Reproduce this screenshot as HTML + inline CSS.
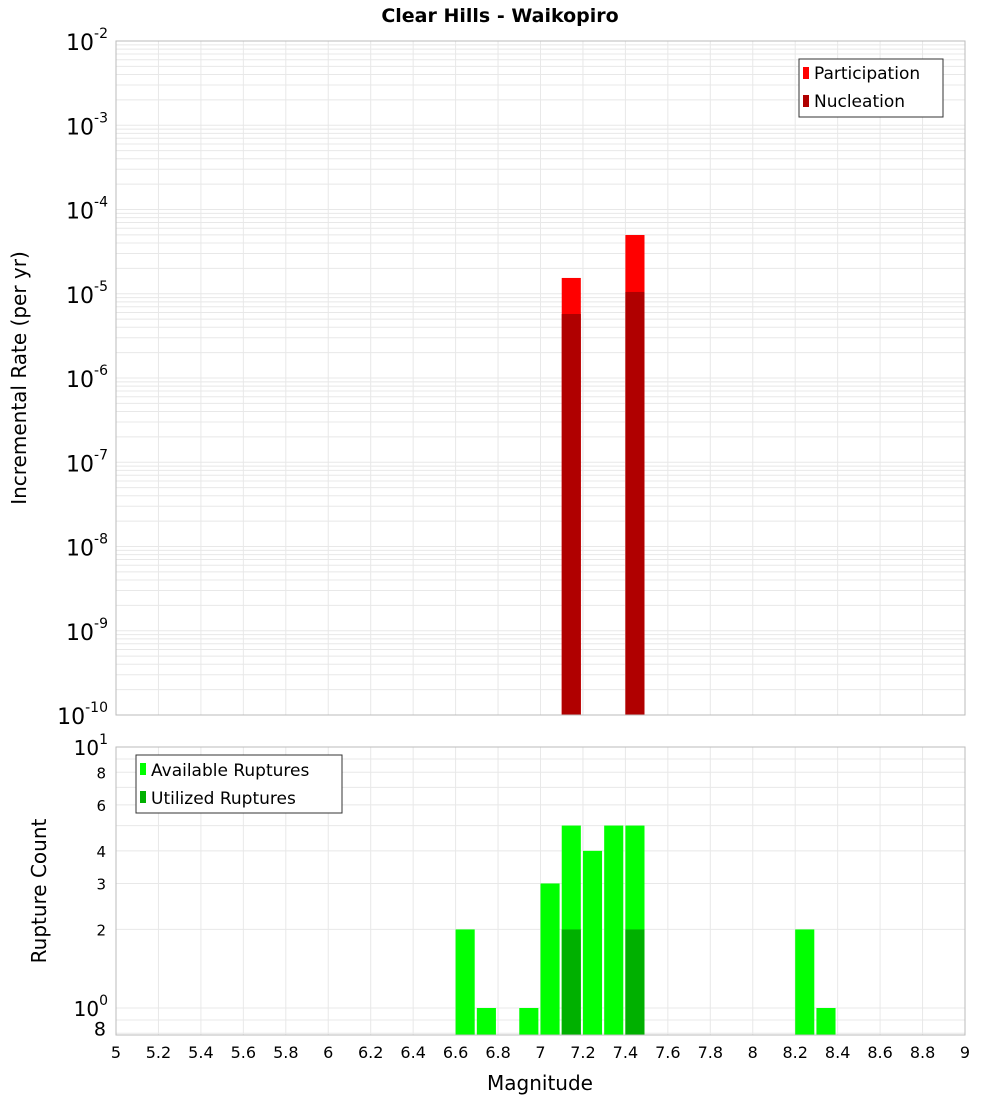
<!DOCTYPE html>
<html><head><meta charset="utf-8"><style>
body{margin:0;background:#fff;}
svg{display:block;font-family:"DejaVu Sans","Liberation Sans",sans-serif;}
</style></head><body>
<svg id="chart" width="1000" height="1100" viewBox="0 0 1000 1100">
<rect width="1000" height="1100" fill="#fff"/>
<text x="500" y="22" text-anchor="middle" font-weight="bold" font-size="19">Clear Hills - Waikopiro</text>
<g id="topg"></g>
<g id="botg"></g>
<text transform="translate(26,378) rotate(-90)" text-anchor="middle" font-size="20">Incremental Rate (per yr)</text>
<text transform="translate(46,891) rotate(-90)" text-anchor="middle" font-size="20">Rupture Count</text>
<text x="540" y="1090" text-anchor="middle" font-size="20">Magnitude</text>
<g>
<rect x="799" y="59" width="144" height="58" fill="#fff" stroke="#333"/>
<rect x="803" y="67" width="6" height="12" fill="#ff0000"/>
<text x="814" y="79" font-size="17">Participation</text>
<rect x="803" y="95" width="6" height="12" fill="#b00000"/>
<text x="814" y="107" font-size="17">Nucleation</text>
</g>
<g>
<rect x="136" y="755" width="206" height="58" fill="#fff" stroke="#333"/>
<rect x="140" y="763" width="6" height="12" fill="#00ff00"/>
<text x="151" y="776" font-size="17">Available Ruptures</text>
<rect x="140" y="791" width="6" height="12" fill="#00b000"/>
<text x="151" y="804" font-size="17">Utilized Ruptures</text>
</g>
</svg>
<script>
const mags = [7.15, 7.45];
const participation = [1.54e-5, 4.98e-5];
const nucleation = [5.75e-6, 1.05e-5];
const countMags = [6.65, 6.75, 6.95, 7.05, 7.15, 7.25, 7.35, 7.45, 8.25, 8.35];
const available = [2, 1, 1, 3, 5, 4, 5, 5, 2, 1];
const utilMags = [7.15, 7.45];
const utilized = [2, 2];
const xTicks = [5,5.2,5.4,5.6,5.8,6,6.2,6.4,6.6,6.8,7,7.2,7.4,7.6,7.8,8,8.2,8.4,8.6,8.8,9];
const topExps = [-2,-3,-4,-5,-6,-7,-8,-9,-10];

const NS="http://www.w3.org/2000/svg";
const L=116,R=965,T1=41,B1=715,T2=747,B2=1035;
const xs=m=>L+(m-5)/4*(R-L);
const y1=v=>T1+(-2-Math.log10(v))/8*(B1-T1);
const perDec2=261;
const y2=v=>T2+(1-Math.log10(v))*perDec2;
function mk(p,tag,a){const e=document.createElementNS(NS,tag);for(const k in a)e.setAttribute(k,a[k]);p.appendChild(e);return e;}
const topG=document.getElementById('topg'),botG=document.getElementById('botg');

for(let d=-10;d<-2;d++)for(let k=1;k<10;k++){const yy=y1(k*Math.pow(10,d));
 const g=mk(topG,'line',{x1:L,x2:R,y1:yy,y2:yy,stroke:'#e8e8e8','stroke-width':1});
 
 }
xTicks.forEach(t=>{for(const [p,a,b] of [[topG,T1,B1],[botG,T2,B2]]){const g=mk(p,'line',{x1:xs(t),x2:xs(t),y1:a,y2:b,stroke:'#e8e8e8'});
 
 }});
[0.8,0.9,1,2,3,4,5,6,7,8,9,10].forEach(v=>{const g=mk(botG,'line',{x1:L,x2:R,y1:y2(v),y2:y2(v),stroke:'#e8e8e8'});
 
 });

const bw=(R-L)/40*0.9;
mags.forEach((m,i)=>{
 const a=mk(topG,'rect',{x:xs(m-0.05),y:y1(participation[i]),width:bw,height:B1-y1(participation[i]),fill:'#ff0000'});
 
 
 const b=mk(topG,'rect',{x:xs(m-0.05),y:y1(nucleation[i]),width:bw,height:B1-y1(nucleation[i]),fill:'#b00000'});
 
 
});
countMags.forEach((m,i)=>{
 const a=mk(botG,'rect',{x:xs(m-0.05),y:y2(available[i]),width:bw,height:B2-y2(available[i]),fill:'#00ff00'});
 
 });
utilMags.forEach((m,i)=>{
 const a=mk(botG,'rect',{x:xs(m-0.05),y:y2(utilized[i]),width:bw,height:B2-y2(utilized[i]),fill:'#00b000'});
 
 });

mk(topG,'rect',{x:L,y:T1,width:R-L,height:B1-T1,fill:'none',stroke:'#bbb'});
mk(botG,'rect',{x:L,y:T2,width:R-L,height:B2-T2,fill:'none',stroke:'#bbb'});

topExps.forEach(e=>{const yy=y1(Math.pow(10,e));
 const t=mk(topG,'text',{x:108,y:yy+9,'text-anchor':'end','font-size':22});
 
 
 t.innerHTML='10<tspan dy="-12" font-size="14">'+e+'</tspan>';});
const botLabels=[[10,'10','1'],[8,'8'],[6,'6'],[4,'4'],[3,'3'],[2,'2'],[1,'10','0'],[0.8,'8']];
botLabels.forEach(b=>{const yy=y2(b[0]);const big=b.length>2;
 const t=mk(botG,'text',{x:big?108:106,y:yy+(big?8:6),'text-anchor':'end','font-size':big?20:15});
 
 
 t.innerHTML=b[1]+(big?'<tspan dy="-11" font-size="14">'+b[2]+'</tspan>':'');
 if(b[0]==0.8){t.setAttribute('font-size','19');t.setAttribute('y',yy+2);}});
xTicks.forEach(v=>{const t=mk(botG,'text',{x:xs(v),y:1058,'text-anchor':'middle','font-size':16});
 
 
 t.textContent=String(v);});
</script>
</body></html>
